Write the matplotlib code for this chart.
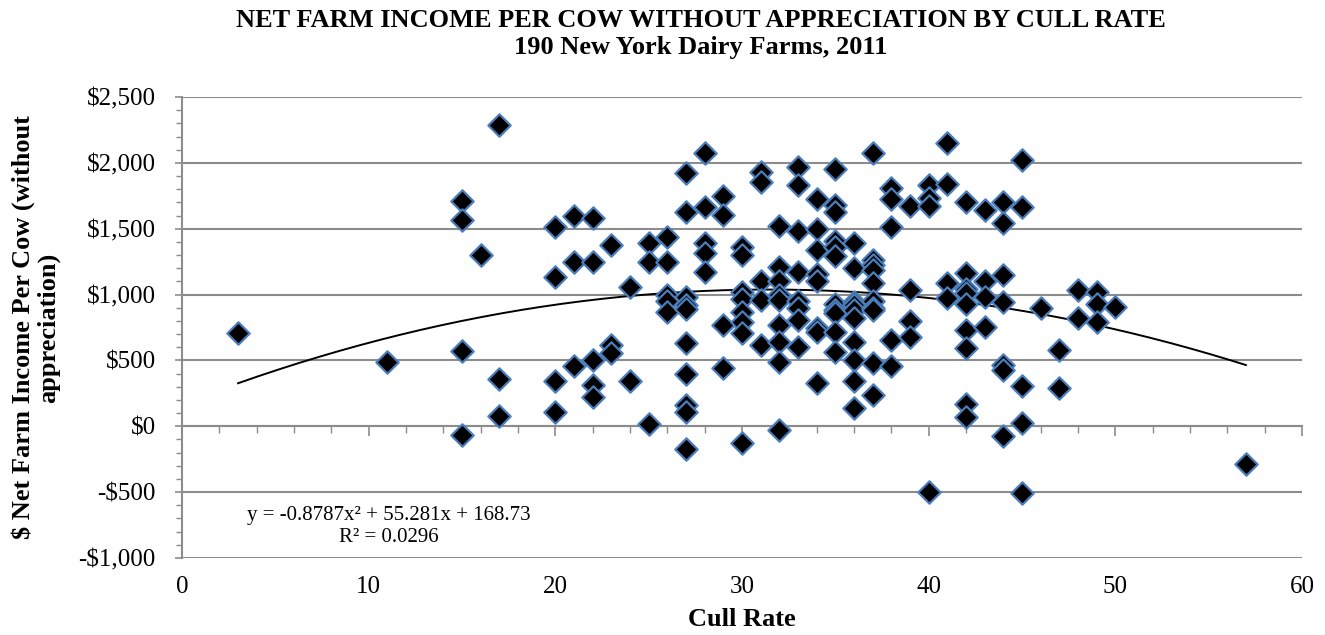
import numpy as np
import matplotlib
matplotlib.use("Agg")
import matplotlib.pyplot as plt
from matplotlib.ticker import MultipleLocator, FuncFormatter

plt.rcParams['font.family'] = ['Liberation Serif', 'DejaVu Serif']

# cull rate (%) and net farm income per cow ($), one row per cull rate value
cull_rate = (
    [3] + [11] + [15] * 4 + [16] + [17] * 3 + [20] * 4 + [21] * 3 + [22] * 5
    + [23] * 3 + [24] * 2 + [25] * 3 + [26] * 5 + [27] * 10 + [28] * 5
    + [29] * 4 + [30] * 8 + [31] * 5 + [32] * 9 + [33] * 8 + [34] * 8
    + [35] * 11 + [36] * 10 + [37] * 10 + [38] * 5 + [39] * 4 + [40] * 4
    + [41] * 4 + [42] * 9 + [43] * 4 + [44] * 7 + [45] * 5 + [46] + [47] * 2
    + [48] * 2 + [49] * 3 + [50] + [57]
)
net_income = [
    710,
    490,
    1710, 1570, 570, -70,
    1300,
    2285, 360, 80,
    1515, 1135, 340, 110,
    1595, 1250, 460,
    1580, 1250, 500, 310, 225,
    1375, 615, 555,
    1055, 340,
    1390, 1250, 15,
    1440, 1250, 1000, 950, 870,
    1925, 1630, 980, 920, 890, 635, 400, 160, 110, -170,
    2075, 1665, 1390, 1315, 1170,
    1745, 1605, 770, 440,
    1360, 1300, 1020, 970, 870, 795, 705, -130,
    1930, 1855, 1100, 960, 615,
    1520, 1210, 1100, 1000, 960, 770, 640, 490, -30,
    1970, 1830, 1480, 1170, 950, 900, 805, 600,
    1725, 1495, 1340, 1160, 1100, 750, 715, 325,
    1955, 1680, 1630, 1410, 1360, 1290, 930, 880, 860, 715, 565,
    1390, 1200, 940, 920, 880, 820, 640, 500, 340, 135,
    2075, 1260, 1225, 1190, 1090, 950, 900, 880, 478, 236,
    1810, 1725, 1515, 655, 456,
    1670, 1035, 800, 680,
    1830, 1730, 1672, -500,
    2150, 1840, 1090, 975,
    1700, 1165, 1045, 1010, 930, 730, 593, 167, 68,
    1640, 1100, 985, 752,
    1705, 1540, 1147, 945, 463, 425, -76,
    2020, 1665, 304, 25, -505,
    897,
    578, 291,
    1033, 820,
    1020, 932, 793,
    907,
    -284,
]

# quadratic trendline as printed on the chart
trend_coef = [-0.8787, 55.281, 168.73]
trend_label = "y = -0.8787x² + 55.281x + 168.73"
r2_label = "R² = 0.0296"

fig = plt.figure(figsize=(13.25, 6.35), dpi=100)
ax = fig.add_axes([0.1374, 0.1213, 0.9826 - 0.1374, 0.8472 - 0.1213])

grid_c = '#8c8c8c'

ax.set_xlim(0, 60)
ax.set_ylim(-1000, 2500)

ax.scatter(cull_rate, net_income, marker='D', s=130, facecolor='black',
           edgecolor='#4a7ebb', linewidth=1.6, zorder=3, clip_on=False)

xs = np.linspace(min(cull_rate), max(cull_rate), 200)
ax.plot(xs, np.polyval(trend_coef, xs), color='black', lw=1.4, zorder=2)

# y axis
ax.yaxis.set_major_locator(MultipleLocator(500))
ax.yaxis.set_minor_locator(MultipleLocator(100))
ax.yaxis.set_major_formatter(FuncFormatter(
    lambda v, p: ('-$' if v < 0 else '$') + f'{abs(v):,.0f}'))
ax.grid(axis='y', color=grid_c, lw=1.5, zorder=0)
ax.tick_params(axis='y', which='both', direction='out', color=grid_c,
               labelsize=18, pad=14)
ax.tick_params(axis='y', which='major', length=5, width=1.2)
ax.tick_params(axis='y', which='minor', length=4, width=1.0)

# x axis line crosses at zero, labels sit at the bottom
ax.spines['bottom'].set_position(('data', 0))
ax.spines['bottom'].set_color(grid_c)
ax.spines['bottom'].set_linewidth(1.5)
ax.spines['left'].set_color(grid_c)
ax.spines['left'].set_linewidth(1.5)
ax.spines['top'].set_visible(False)
ax.spines['right'].set_visible(False)
ax.xaxis.set_major_locator(MultipleLocator(10))
ax.xaxis.set_minor_locator(MultipleLocator(2))
ax.tick_params(axis='x', which='both', direction='out', color=grid_c,
               labelbottom=False)
ax.tick_params(axis='x', which='major', length=7, width=1.2)
ax.tick_params(axis='x', which='minor', length=5, width=1.0)

sec = ax.secondary_xaxis(0)
sec.set_xticks(range(0, 61, 10))
sec.tick_params(length=0, labelsize=18, pad=13)
sec.spines['bottom'].set_visible(False)
sec.set_xlabel('Cull Rate', fontsize=19, fontweight='bold', labelpad=7)

ax.set_ylabel('$ Net Farm Income Per Cow (without\nappreciation)',
              fontsize=19, fontweight='bold', labelpad=13, linespacing=1.1)

ax.text(11.1, -675, trend_label, fontsize=15, ha='center', va='center')
ax.text(11.1, -845, r2_label, fontsize=15, ha='center', va='center')

fig.text(0.529, 0.967, 'NET FARM INCOME PER COW WITHOUT APPRECIATION BY CULL RATE',
         ha='center', va='center', fontsize=19, fontweight='bold')
fig.text(0.529, 0.925, '190 New York Dairy Farms, 2011',
         ha='center', va='center', fontsize=19, fontweight='bold')

fig.savefig('out.png', dpi=100)
